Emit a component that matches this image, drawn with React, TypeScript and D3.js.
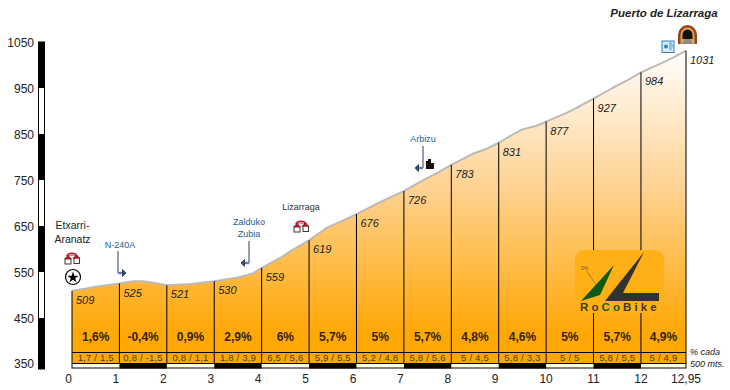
import React from "react";
import * as d3 from "d3";

const kmTicks = [0, 1, 2, 3, 4, 5, 6, 7, 8, 9, 10, 11, 12, 12.95];
const kmLabels = ["0", "1", "2", "3", "4", "5", "6", "7", "8", "9", "10", "11", "12", "12,95"];
const tickElevations = [509, 525, 521, 530, 559, 619, 676, 726, 783, 831, 877, 927, 984, 1031];
const segmentPct = ["1,6%", "-0,4%", "0,9%", "2,9%", "6%", "5,7%", "5%", "5,7%", "4,8%", "4,6%", "5%", "5,7%", "4,9%"];
const segmentSub = ["1,7 / 1,5", "0,8 / -1,5", "0,8 / 1,1", "1,8 / 3,9", "6,5 / 5,6", "5,9 / 5,5", "5,2 / 4,8", "5,8 / 5,6", "5 / 4,5", "5,8 / 3,3", "5 / 5", "5,8 / 5,5", "5 / 4,9"];
const yTicks = [350, 450, 550, 650, 750, 850, 950, 1050];
const profileKm = [0, 0.3, 0.5, 1, 1.3, 1.5, 1.75, 2, 2.5, 3, 3.5, 3.8, 4, 4.4, 4.6, 5, 5.37, 5.7, 6, 6.56, 7, 7.4, 7.7, 8, 8.45, 8.75, 9, 9.3, 9.5, 9.8, 10, 10.43, 10.66, 11, 11.4, 11.7, 12, 12.39, 12.7, 12.95];
const profileElev = [509, 514, 518, 525, 530, 530, 526, 521, 524, 530, 538, 546, 559, 581, 595, 619, 646, 661, 676, 705, 726, 749, 765, 783, 807, 818, 831, 849, 860, 868, 877, 896, 908, 927, 950, 966, 984, 1002, 1017, 1031];

const x = d3.scaleLinear().domain([0, 12.95]).range([72, 686]);
const y = d3.scaleLinear().domain([350, 1050]).range([364, 42]);
const areaGen = d3.area<number>().x((_, i) => x(profileKm[i])).y0(363).y1((d) => y(d));
const lineGen = d3.line<number>().x((_, i) => x(profileKm[i])).y((d) => y(d));
const starPath = d3.symbol().type(d3.symbolStar).size(40)() ?? "";

const FONT = "'Liberation Sans', Arial, sans-serif";
const BLUE = "#1d5f8c";

function House({ cx, cy }: { cx: number; cy: number }) {
  return (
    <g transform={`translate(${cx},${cy})`}>
      <path d="M-6,-2 A6.5,5.5 0 0 1 6,-2 Z" fill="#b01c2e" />
      <path d="M-3,-3 H3" stroke="#fff" strokeWidth={1} />
      <rect x={-7} y={1} width={6} height={5} fill="#fff" stroke="#222" strokeWidth={0.9} />
      <rect x={2} y={0} width={5.5} height={5.5} fill="#fff" stroke="#222" strokeWidth={0.9} />
      <path d="M-8,1 L-4,-3 L0,1 Z M0,0.5 L4.5,-3.5 L8.5,0.5 Z" fill="#b01c2e" />
    </g>
  );
}

function Arrow({ px, top, bottom, dir }: { px: number; top: number; bottom: number; dir: 1 | -1 }) {
  return (
    <g fill="none">
      <path d={`M${px},${top} V${bottom}`} stroke="#2c3e5c" strokeWidth={1} />
      <path d={`M${px},${bottom} H${px + dir * 6}`} stroke="#6a7ea6" strokeWidth={2.4} />
      <path d={`M${px + dir * 4.5},${bottom - 3.5} L${px + dir * 8},${bottom} L${px + dir * 4.5},${bottom + 3.5} Z`} fill="#3a4c70" stroke="#1f2f4c" strokeWidth={0.8} />
    </g>
  );
}

export default function App() {
  const logoX = 575;
  const logoY = 250;
  return (
    <svg width={730} height={390} style={{ position: "absolute", left: 0, top: 0, background: "#fff" }} fontFamily={FONT}>
      <defs>
        <linearGradient id="fill" gradientUnits="userSpaceOnUse" x1={0} x2={0} y1={48} y2={335}>
          <stop offset="0" stopColor="#ffffff" />
          <stop offset="0.5" stopColor="#fed18f" />
          <stop offset="1" stopColor="#ffa704" />
        </linearGradient>
      </defs>

      {/* elevation axis bar */}
      <rect x={38.5} y={42} width={6} height={327} fill="#fff" stroke="#000" />
      {yTicks.slice(0, -1).map((v, i) =>
        i % 2 === 0 ? (
          <rect key={v} x={38} y={y(v + 100)} width={7} height={y(v) - y(v + 100) + (i === 0 ? 5 : 0)} fill="#000" />
        ) : null
      )}
      {yTicks.map((v) => (
        <text key={v} x={34} y={y(v) + (v === 350 ? 4 : 5)} textAnchor="end" fontSize={12} fill="#222">
          {v}
        </text>
      ))}

      {/* profile */}
      <path d={areaGen(profileElev) ?? ""} fill="url(#fill)" />
      <path d={lineGen(profileElev) ?? ""} fill="none" stroke="#bdb9b7" strokeWidth={2} strokeLinejoin="round" />

      {/* verticals */}
      {kmTicks.map((k, i) => (
        <line key={k} x1={x(k)} x2={x(k)} y1={y(tickElevations[i])} y2={363} stroke="#000" strokeWidth={1} />
      ))}
      <line x1={72} x2={686} y1={352.5} y2={352.5} stroke="#000" />

      {/* km stripe */}
      <rect x={72} y={363.5} width={614} height={4.5} fill="#fff" stroke="#000" strokeWidth={1} />
      {kmTicks.slice(0, -1).map((k, i) =>
        i % 2 === 1 ? <rect key={k} x={x(k)} y={363} width={x(kmTicks[i + 1]) - x(k)} height={5.5} fill="#000" /> : null
      )}
      {kmLabels.map((l, i) => (
        <text key={l} x={x(kmTicks[i]) - (i < 10 ? 3.5 : 0)} y={383} textAnchor="middle" fontSize={12} fill="#222">
          {l}
        </text>
      ))}

      {/* labels */}
      {tickElevations.map((v, i) => (
        <text key={i} x={x(kmTicks[i]) + 4} y={y(v) + 13} fontSize={11} fontStyle="italic" fill="#222">
          {v}
        </text>
      ))}
      {segmentPct.map((s, i) => (
        <text key={i} x={(x(kmTicks[i]) + x(kmTicks[i + 1])) / 2} y={341} textAnchor="middle" fontSize={12} fontWeight="bold" fill="#33240a">
          {s}
        </text>
      ))}
      {segmentSub.map((s, i) => (
        <text key={i} x={(x(kmTicks[i]) + x(kmTicks[i + 1])) / 2} y={361} textAnchor="middle" fontSize={9.5} letterSpacing={0.2} fill="#4a3a18">
          {s}
        </text>
      ))}
      <text x={690} y={355} fontSize={9} fontStyle="italic" fill="#222">% cada</text>
      <text x={690} y={367} fontSize={9} fontStyle="italic" fill="#222">500 mts.</text>

      {/* logo */}
      <g transform={`translate(${logoX},${logoY})`}>
        <rect x={0} y={0} width={89} height={63} rx={9} fill="#ffb016" />
        <path d="M6,51 L39,15 L25,45 Z" fill="#0d5a12" />
        <path d="M30,51 L69,2 L48,43 H84 V51 Z" fill="#333230" />
        <path d="M12,21 L21,35" stroke="#8a6a20" strokeWidth={0.7} fill="none" />
        <text x={6} y={20} fontSize={5} fill="#6a5a30">5%</text>
        <text x={5} y={61} fontSize={11.5} fontWeight="bold" letterSpacing={3.1} fill="#3a3a2a">
          Ro<tspan fill="#1e5a10">Co</tspan>Bike
        </text>
      </g>

      {/* annotations */}
      <text x={664} y={17} textAnchor="middle" fontSize={11.5} fontWeight="bold" fontStyle="italic" fill="#222">
        Puerto de Lizarraga
      </text>
      <text x={72.5} y={229} textAnchor="middle" fontSize={10.5} fill="#222">Etxarri-</text>
      <text x={72.5} y={243} textAnchor="middle" fontSize={10.5} fill="#222">Aranatz</text>
      <House cx={72} cy={258} />
      <circle cx={73} cy={277} r={7.5} fill="#fff" stroke="#000" strokeWidth={1.2} />
      <path d={starPath} transform="translate(73,277.5)" fill="#000" />

      <text x={120} y={248} textAnchor="middle" fontSize={9} fill={BLUE}>N-240A</text>
      <Arrow px={118} top={251} bottom={273} dir={1} />
      <text x={249} y={225} textAnchor="middle" fontSize={9} fill={BLUE}>Zalduko</text>
      <text x={249} y={237} textAnchor="middle" fontSize={9} fill={BLUE}>Zubia</text>
      <Arrow px={249} top={241} bottom={263} dir={-1} />
      <text x={301} y={210} textAnchor="middle" fontSize={9} fill="#1f3040">Lizarraga</text>
      <House cx={301} cy={226} />
      <text x={423} y={142} textAnchor="middle" fontSize={9} fill={BLUE}>Arbizu</text>
      <Arrow px={423} top={146} bottom={168} dir={-1} />
      <path d="M426,169 V161 H428 V159 H431 V163 H434 V169 Z" fill="#1a1010" />

      {/* info sign */}
      <rect x={662} y={41} width={12} height={11.5} fill="#d8ecf8" stroke="#2b80c0" strokeWidth={1} />
      <circle cx={666} cy={46.5} r={2} fill="#2b80c0" />
      <path d="M669,43 H672 M669,45 H673 M669,47 H673 M669,49 H672" stroke="#2b80c0" strokeWidth={0.8} />

      {/* tunnel */}
      <g>
        <path d="M678,44 V35 A9.5,10 0 0 1 697,35 V44 Z" fill="#8f4a1a" />
        <path d="M680.5,44 V35 A7,7.5 0 0 1 694.5,35 V44 Z" fill="#e0a060" />
        <path d="M682.5,39 V35 A5,5.5 0 0 1 692.5,35 V39 Z" fill="#111" />
        <path d="M682,44 L685,39 H690 L693,44 Z" fill="#8a8a8a" />
      </g>
    </svg>
  );
}
